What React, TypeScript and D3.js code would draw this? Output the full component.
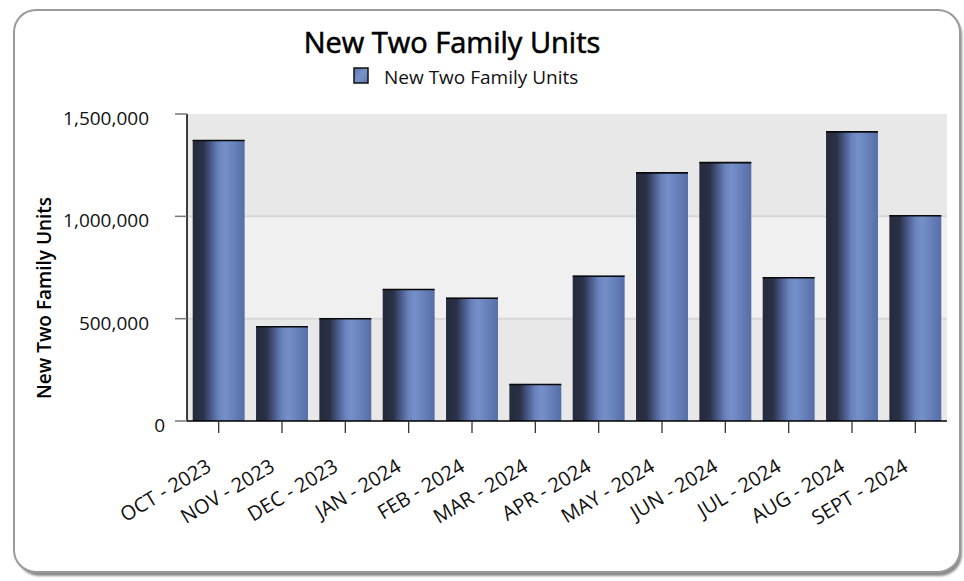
import React from "react";
import * as d3 from "d3";

const categories = [
  "OCT - 2023", "NOV - 2023", "DEC - 2023", "JAN - 2024", "FEB - 2024", "MAR - 2024",
  "APR - 2024", "MAY - 2024", "JUN - 2024", "JUL - 2024", "AUG - 2024", "SEPT - 2024",
];
const values = [1373000, 463000, 502000, 645000, 602000, 181000, 710000, 1215000, 1265000, 702000, 1415000, 1005000];
const yTicks = [0, 500000, 1000000, 1500000];
const title = "New Two Family Units";
const seriesName = "New Two Family Units";
const yTitle = "New Two Family Units";

const W = 964, H = 581;
const M = { left: 187, right: 947, top: 114, bottom: 421 };
const FONT = "'Open Sans', 'Noto Sans', sans-serif";

export default function App() {
  const x = d3.scaleBand<string>().domain(categories).range([M.left, M.right]).paddingInner(0.18).paddingOuter(0.09);
  const y = d3.scaleLinear().domain([0, 1500000]).range([M.bottom, M.top]);
  const fmt = d3.format(",");
  const bands = d3.pairs(yTicks);

  return (
    <svg width={W} height={H} style={{ position: "absolute", left: 0, top: 0 }} fontFamily={FONT}>
      <defs>
        <linearGradient id="barGrad" x1="0" x2="1" y1="0" y2="0">
          <stop offset="0%" stopColor="#252b3d" />
          <stop offset="20%" stopColor="#2a3147" />
          <stop offset="36%" stopColor="#4b5c8b" />
          <stop offset="50%" stopColor="#6a83be" />
          <stop offset="62%" stopColor="#7590c8" />
          <stop offset="80%" stopColor="#6780bb" />
          <stop offset="100%" stopColor="#556ea6" />
        </linearGradient>
        <linearGradient id="swGrad" x1="0" x2="1" y1="0" y2="1">
          <stop offset="0%" stopColor="#5c72aa" />
          <stop offset="50%" stopColor="#7a92ca" />
          <stop offset="100%" stopColor="#5e75ad" />
        </linearGradient>
        <filter id="blur" x="-5%" y="-5%" width="110%" height="110%">
          <feGaussianBlur stdDeviation="1" />
        </filter>
      </defs>

      {/* frame */}
      <rect x={17} y={13} width={945} height={563} rx={22} fill="#8a8a8a" filter="url(#blur)" />
      <rect x={14} y={10} width={946} height={562} rx={22} fill="#ffffff" stroke="#9a9a9a" strokeWidth={2} />

      {/* title & legend */}
      <text x={452} y={53} textAnchor="middle" fontSize={29} fontWeight={400} fill="#000" stroke="#000" strokeWidth={0.6}>{title}</text>
      <rect x={354} y={68} width={14} height={15} fill="url(#swGrad)" stroke="#111" strokeWidth={1.5} />
      <text x={384} y={84} fontSize={19} fill="#111">{seriesName}</text>

      {/* plot background bands */}
      {bands.map(([a, b], i) => (
        <rect key={i} x={M.left} y={y(b)} width={M.right - M.left} height={y(a) - y(b)} fill={i % 2 === 0 ? "#e8e8e8" : "#f0f0f0"} />
      ))}
      {yTicks.slice(1, -1).map((t) => (
        <line key={t} x1={M.left} x2={M.right} y1={y(t)} y2={y(t)} stroke="#d8d8d8" strokeWidth={2} />
      ))}

      {/* bars */}
      {categories.map((c, i) => (
        <g key={c}>
          <rect x={x(c)} y={y(values[i])} width={x.bandwidth()} height={y(0) - y(values[i])} fill="url(#barGrad)" />
          <line x1={x(c)} x2={(x(c) as number) + x.bandwidth()} y1={y(values[i]) + 0.5} y2={y(values[i]) + 0.5} stroke="#0a0a0a" strokeWidth={1.6} />
        </g>
      ))}

      {/* y axis */}
      <line x1={M.left} x2={M.left} y1={M.top} y2={M.bottom} stroke="#000" strokeWidth={1.5} />
      {yTicks.map((t) => (
        <g key={t}>
          <line x1={175} x2={M.left} y1={y(t)} y2={y(t)} stroke="#777" strokeWidth={1.5} />
          <text x={t === 0 ? 165 : 149} y={y(t) + 11} textAnchor="end" fontSize={19} fill="#111">{fmt(t)}</text>
        </g>
      ))}
      <text transform={`translate(51,298) rotate(-90)`} textAnchor="middle" fontSize={19} fontWeight={600} fill="#000">{yTitle}</text>

      {/* x axis */}
      <line x1={M.left} x2={M.right} y1={M.bottom} y2={M.bottom} stroke="#000" strokeWidth={1.5} />
      {categories.map((c) => {
        const cx = (x(c) as number) + x.bandwidth() / 2;
        return (
          <g key={c}>
            <line x1={cx} x2={cx} y1={M.bottom} y2={M.bottom + 12} stroke="#333" strokeWidth={1.3} />
            <text transform={`translate(${cx - 6},470) rotate(-31)`} textAnchor="end" fontSize={20} fill="#111">{c}</text>
          </g>
        );
      })}
    </svg>
  );
}
